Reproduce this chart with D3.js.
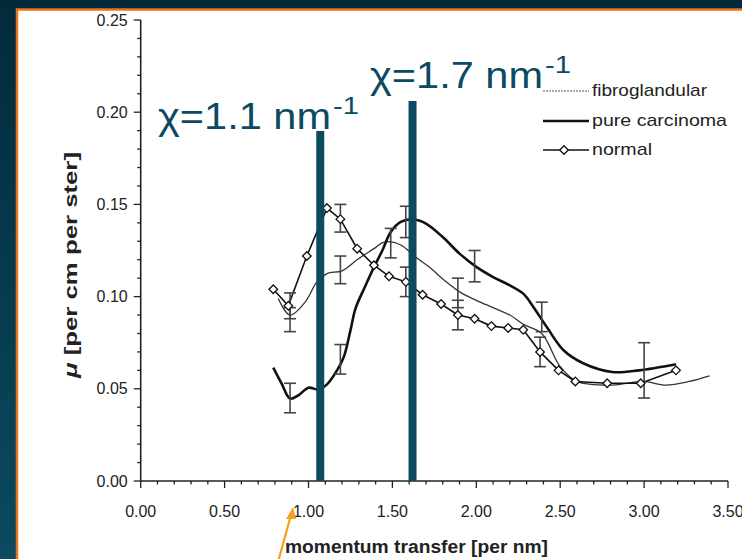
<!DOCTYPE html>
<html><head><meta charset="utf-8">
<script src="https://cdn.jsdelivr.net/npm/d3@7"></script>
<style>html,body{margin:0;padding:0;overflow:hidden;background:#06364a}</style>
</head><body>
<svg id="c" width="742" height="559"></svg>
<script>
// ---- data ----
const normalX = [0.79,0.88,0.99,1.11,1.19,1.29,1.39,1.48,1.58,1.68,1.79,1.89,1.99,2.09,2.19,2.28,2.38,2.49,2.59,2.78,2.98,3.19];
const normalY = [0.104,0.095,0.122,0.148,0.142,0.126,0.117,0.111,0.108,0.101,0.096,0.090,0.088,0.084,0.083,0.082,0.070,0.060,0.054,0.053,0.053,0.060];
const fibroX = [0.82,0.89,0.98,1.05,1.11,1.20,1.29,1.39,1.45,1.55,1.63,1.72,1.82,1.91,2.00,2.10,2.20,2.28,2.39,2.50,2.60,2.81,2.99,3.13,3.27,3.39];
const fibroY = [0.099,0.090,0.097,0.108,0.1125,0.114,0.120,0.126,0.1296,0.128,0.122,0.116,0.108,0.102,0.098,0.094,0.090,0.085,0.080,0.062,0.054,0.052,0.054,0.052,0.054,0.057];
const carcX = [0.79,0.84,0.89,0.94,1.00,1.06,1.11,1.17,1.21,1.25,1.28,1.34,1.39,1.44,1.49,1.55,1.63,1.70,1.80,1.90,2.00,2.10,2.20,2.28,2.34,2.42,2.52,2.64,2.81,2.97,3.19];
const carcY = [0.0615,0.0528,0.0447,0.0465,0.0506,0.0496,0.0524,0.060,0.0672,0.0817,0.0935,0.106,0.116,0.125,0.135,0.1405,0.1418,0.1396,0.1323,0.1233,0.1161,0.1106,0.1061,0.1016,0.0944,0.0835,0.0709,0.0637,0.0591,0.060,0.0633];
const carcErrX = [0.89,1.19,1.58,1.99,2.39,3.00];
const carcErrLo = [0.037,0.058,0.132,0.108,0.081,0.045];
const carcErrHi = [0.053,0.074,0.149,0.125,0.097,0.075];
const fibroErrX = [0.89,1.19,1.49,1.89];
const fibroErrLo = [0.081,0.107,0.121,0.094];
const fibroErrHi = [0.094,0.122,0.137,0.110];
const normalErrX = [0.89,1.19,1.58,1.89,2.38];
const normalErrLo = [0.088,0.135,0.100,0.082,0.062];
const normalErrHi = [0.102,0.150,0.116,0.098,0.078];
const markerX = [1.07,1.62];
const markerLabels = ["1.1","1.7"];
const xTicks = [0,0.5,1,1.5,2,2.5,3,3.5];
const yTicks = [0,0.05,0.10,0.15,0.20,0.25];
const legendNames = ["fibroglandular","pure carcinoma","normal"];

// ---- drawing ----
const svg = d3.select("#c");
const defs = svg.append("defs");
const g = defs.append("linearGradient").attr("id","bg").attr("x1",0).attr("y1",0).attr("x2",0).attr("y2",1);
g.append("stop").attr("offset","0").attr("stop-color","#032a3b");
g.append("stop").attr("offset","1").attr("stop-color","#0b4a5f");
svg.append("rect").attr("width",742).attr("height",559).attr("fill","url(#bg)");
svg.append("rect").attr("x",17).attr("y",9.5).attr("width",740).attr("height",560)
  .attr("fill","#fff").attr("stroke","#e8731c").attr("stroke-width",2.5);

const x = d3.scaleLinear().domain([0,3.5]).range([140.7,728]);
const y = d3.scaleLinear().domain([0,0.25]).range([481,20]);
const font = "'Liberation Sans', Arial, Helvetica, sans-serif";

// axes
const xMinor = d3.range(0,3.501,0.1);
const yMinor = d3.range(0,0.2501,0.01);
const ax = svg.append("g").attr("stroke","#222").attr("fill","none");
ax.append("line").attr("x1",x(0)).attr("x2",x(3.5)).attr("y1",y(0)).attr("y2",y(0)).attr("stroke-width",1.6);
ax.append("line").attr("x1",x(0)).attr("x2",x(0)).attr("y1",y(0)).attr("y2",y(0.25)).attr("stroke-width",1.6);
ax.selectAll(".xm").data(xMinor).join("line")
  .attr("x1",d=>x(d)).attr("x2",d=>x(d)).attr("y1",y(0)).attr("y2",d=>y(0)+(Math.abs(d*2-Math.round(d*2))<1e-6?7:3.5)).attr("stroke-width",1.3);
ax.selectAll(".ym").data(yMinor).join("line")
  .attr("y1",d=>y(d)).attr("y2",d=>y(d)).attr("x1",x(0)).attr("x2",d=>x(0)-(Math.abs(d*20-Math.round(d*20))<1e-6?7:3.5)).attr("stroke-width",1.3);

svg.selectAll(".xl").data(xTicks).join("text")
  .attr("x",d=>x(d)).attr("y",y(0)+36).attr("text-anchor","middle")
  .attr("font-family",font).attr("font-size",16).attr("fill","#222")
  .text(d=>d.toFixed(2));
svg.selectAll(".yl").data(yTicks).join("text")
  .attr("x",x(0)-13).attr("y",d=>y(d)+5.5).attr("text-anchor","end")
  .attr("font-family",font).attr("font-size",16).attr("fill","#222")
  .text(d=>d.toFixed(2));

svg.append("text").attr("x",285).attr("y",553)
  .attr("font-family",font).attr("font-size",18).attr("font-weight","bold").attr("fill","#222")
  .attr("textLength",263).attr("lengthAdjust","spacingAndGlyphs")
  .text("momentum transfer [per nm]");
const yt = svg.append("text").attr("transform","translate(77,378) rotate(-90)")
  .attr("font-family",font).attr("font-size",18).attr("font-weight","bold").attr("fill","#222")
  .attr("textLength",226).attr("lengthAdjust","spacingAndGlyphs");
yt.append("tspan").attr("font-style","italic").text("\u03bc");
yt.append("tspan").text(" [per cm per ster]");

// curves
const toPts = (xs,ys)=>xs.map((v,i)=>[x(v),y(ys[i])]);
const smooth = d3.line().curve(d3.curveCatmullRom.alpha(0.5));
const poly = d3.line();
svg.append("path").attr("d",smooth(toPts(fibroX,fibroY))).attr("fill","none").attr("stroke","#333").attr("stroke-width",1.3);
svg.append("path").attr("d",smooth(toPts(carcX,carcY))).attr("fill","none").attr("stroke","#111").attr("stroke-width",2.6);
svg.append("path").attr("d",poly(toPts(normalX,normalY))).attr("fill","none").attr("stroke","#111").attr("stroke-width",1.6);

// error bars
function errBars(xs,lo,hi){
  const eg = svg.append("g").attr("stroke","#444").attr("stroke-width",1.6);
  xs.forEach((v,i)=>{
    eg.append("line").attr("x1",x(v)).attr("x2",x(v)).attr("y1",y(lo[i])).attr("y2",y(hi[i]));
    [lo[i],hi[i]].forEach(e=>eg.append("line").attr("x1",x(v)-6).attr("x2",x(v)+6).attr("y1",y(e)).attr("y2",y(e)));
  });
}
errBars(carcErrX,carcErrLo,carcErrHi);
errBars(fibroErrX,fibroErrLo,fibroErrHi);
errBars(normalErrX,normalErrLo,normalErrHi);

// diamonds
const diamond = (cx,cy,r)=>`M${cx},${cy-r}L${cx+r},${cy}L${cx},${cy+r}L${cx-r},${cy}Z`;
svg.selectAll(".dm").data(toPts(normalX,normalY)).join("path")
  .attr("d",d=>diamond(d[0],d[1],4.3)).attr("fill","#fff").attr("stroke","#111").attr("stroke-width",1.3);

// legend
const lg = svg.append("g");
const lx0 = 543, lx1 = 589, rows = [91,121,150];
lg.append("line").attr("x1",lx0).attr("x2",lx1).attr("y1",rows[0]).attr("y2",rows[0]).attr("stroke","#555").attr("stroke-width",1).attr("stroke-dasharray","2,1");
lg.append("line").attr("x1",lx0).attr("x2",lx1).attr("y1",rows[1]).attr("y2",rows[1]).attr("stroke","#111").attr("stroke-width",2.6);
lg.append("line").attr("x1",lx0).attr("x2",lx1).attr("y1",rows[2]).attr("y2",rows[2]).attr("stroke","#111").attr("stroke-width",1.5);
lg.append("path").attr("d",diamond(564,rows[2],4.3)).attr("fill","#fff").attr("stroke","#111").attr("stroke-width",1.3);
const lw = [115,135,60];
lg.selectAll("text").data(legendNames).join("text")
  .attr("x",592).attr("y",(d,i)=>rows[i]+5).attr("font-family",font).attr("font-size",17).attr("fill","#222")
  .attr("textLength",(d,i)=>lw[i]).attr("lengthAdjust","spacingAndGlyphs").text(d=>d);

// marker bars + labels
const teal = "#0c4a62";
svg.selectAll(".mb").data(markerX).join("rect")
  .attr("x",d=>x(d)-4).attr("width",8).attr("y",(d,i)=>i===0?131:101).attr("height",(d,i)=>y(0)-(i===0?131:101)).attr("fill",teal);
const lblPos = [[158,129],[370,88]];
markerLabels.forEach((t,i)=>{
  svg.append("text").attr("x",lblPos[i][0]).attr("y",lblPos[i][1])
    .attr("font-family",font).attr("font-size",36).attr("fill",teal)
    .attr("textLength",173).attr("lengthAdjust","spacingAndGlyphs")
    .text("\u03c7="+t+" nm");
  svg.append("text").attr("x",lblPos[i][0]+175).attr("y",lblPos[i][1]-15)
    .attr("font-family",font).attr("font-size",23).attr("fill",teal)
    .attr("textLength",26).attr("lengthAdjust","spacingAndGlyphs")
    .text("-1");
});

// orange arrow
svg.append("line").attr("x1",278).attr("y1",562).attr("x2",291).attr("y2",515).attr("stroke","#f5a01a").attr("stroke-width",2.2);
svg.append("path").attr("d","M293,507 L286,519 L296,519 Z").attr("fill","#f5a01a");
</script>
</body></html>
